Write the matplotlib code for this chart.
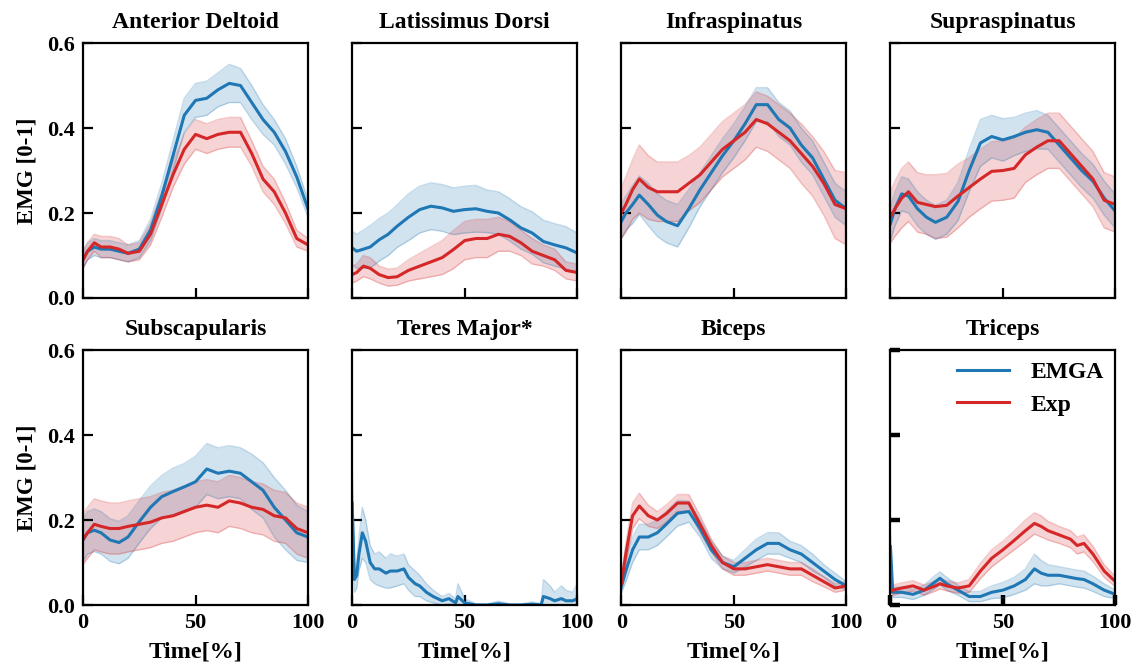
import numpy as np
import matplotlib
matplotlib.use('Agg')
import matplotlib.pyplot as plt

plt.rcParams['font.family'] = ['Liberation Serif', 'DejaVu Serif']
plt.rcParams['font.weight'] = 'bold'
plt.rcParams['font.size'] = 16

#%% dados (tempo em %, EMG normalizado)
muscles = ['Anterior Deltoid', 'Latissimus Dorsi', 'Infraspinatus', 'Supraspinatus',
           'Subscapularis', 'Teres Major*', 'Biceps', 'Triceps']

T = [0, 2, 5, 8, 12, 16, 20, 25, 30, 35, 40, 45, 50, 55, 60, 65, 70, 75, 80, 85, 90, 95, 100]

# Anterior Deltoid
ad_emga = [0.09, 0.11, 0.12, 0.115, 0.115, 0.11, 0.105, 0.115, 0.16, 0.24, 0.335, 0.43, 0.465, 0.47, 0.49, 0.505, 0.50, 0.46, 0.42, 0.39, 0.345, 0.285, 0.21]
ad_emga_sd = [0.02, 0.02, 0.02, 0.02, 0.02, 0.02, 0.02, 0.02, 0.025, 0.03, 0.035, 0.04, 0.04, 0.04, 0.04, 0.045, 0.04, 0.04, 0.035, 0.03, 0.03, 0.025, 0.02]
ad_exp = [0.09, 0.11, 0.13, 0.12, 0.12, 0.115, 0.105, 0.11, 0.15, 0.22, 0.29, 0.35, 0.385, 0.375, 0.385, 0.39, 0.39, 0.34, 0.28, 0.25, 0.20, 0.14, 0.125]
ad_exp_sd = [0.02, 0.02, 0.02, 0.025, 0.025, 0.025, 0.02, 0.02, 0.025, 0.03, 0.03, 0.035, 0.035, 0.035, 0.035, 0.035, 0.035, 0.03, 0.03, 0.03, 0.025, 0.02, 0.015]

# Latissimus Dorsi
ld_emga = [0.118, 0.11, 0.115, 0.12, 0.137, 0.15, 0.169, 0.19, 0.208, 0.216, 0.212, 0.204, 0.208, 0.21, 0.204, 0.20, 0.184, 0.165, 0.153, 0.133, 0.125, 0.118, 0.106]
ld_emga_sd = [0.04, 0.04, 0.045, 0.05, 0.05, 0.05, 0.05, 0.055, 0.055, 0.055, 0.055, 0.055, 0.055, 0.055, 0.05, 0.05, 0.05, 0.05, 0.05, 0.05, 0.05, 0.05, 0.047]
ld_exp = [0.055, 0.06, 0.075, 0.07, 0.055, 0.048, 0.05, 0.065, 0.075, 0.085, 0.095, 0.114, 0.135, 0.14, 0.14, 0.15, 0.145, 0.13, 0.11, 0.10, 0.09, 0.065, 0.06]
ld_exp_sd = [0.02, 0.02, 0.025, 0.025, 0.02, 0.02, 0.02, 0.025, 0.03, 0.035, 0.04, 0.045, 0.045, 0.045, 0.045, 0.04, 0.035, 0.03, 0.03, 0.025, 0.025, 0.02, 0.02]

# Infraspinatus
if_emga = [0.18, 0.20, 0.22, 0.242, 0.22, 0.195, 0.18, 0.17, 0.21, 0.255, 0.295, 0.335, 0.37, 0.41, 0.455, 0.455, 0.42, 0.40, 0.36, 0.33, 0.28, 0.23, 0.21]
if_emga_sd = [0.04, 0.04, 0.045, 0.045, 0.05, 0.05, 0.05, 0.05, 0.045, 0.04, 0.04, 0.04, 0.04, 0.04, 0.04, 0.04, 0.04, 0.04, 0.04, 0.04, 0.04, 0.04, 0.04]
if_exp = [0.20, 0.22, 0.255, 0.28, 0.26, 0.25, 0.25, 0.25, 0.27, 0.29, 0.32, 0.35, 0.37, 0.39, 0.42, 0.41, 0.39, 0.37, 0.34, 0.31, 0.27, 0.22, 0.21]
if_exp_sd = [0.06, 0.065, 0.07, 0.08, 0.075, 0.07, 0.07, 0.07, 0.065, 0.065, 0.065, 0.065, 0.065, 0.065, 0.065, 0.065, 0.065, 0.065, 0.07, 0.07, 0.075, 0.08, 0.085]

# Supraspinatus
sp_emga = [0.175, 0.21, 0.245, 0.24, 0.21, 0.19, 0.178, 0.19, 0.227, 0.30, 0.365, 0.38, 0.372, 0.38, 0.39, 0.396, 0.39, 0.36, 0.33, 0.30, 0.275, 0.235, 0.204]
sp_emga_sd = [0.04, 0.04, 0.04, 0.04, 0.04, 0.04, 0.04, 0.04, 0.045, 0.05, 0.055, 0.05, 0.05, 0.045, 0.045, 0.045, 0.04, 0.04, 0.04, 0.04, 0.04, 0.04, 0.04]
sp_exp = [0.19, 0.21, 0.235, 0.25, 0.225, 0.22, 0.215, 0.218, 0.24, 0.26, 0.28, 0.298, 0.30, 0.305, 0.337, 0.355, 0.37, 0.37, 0.34, 0.31, 0.28, 0.23, 0.22]
sp_exp_sd = [0.06, 0.065, 0.07, 0.07, 0.07, 0.07, 0.075, 0.075, 0.075, 0.07, 0.07, 0.07, 0.07, 0.07, 0.065, 0.065, 0.065, 0.065, 0.065, 0.065, 0.065, 0.065, 0.065]

# Subscapularis
sb_emga = [0.153, 0.17, 0.176, 0.17, 0.153, 0.147, 0.16, 0.196, 0.23, 0.255, 0.267, 0.278, 0.29, 0.32, 0.31, 0.315, 0.31, 0.29, 0.27, 0.23, 0.20, 0.17, 0.16]
sb_emga_sd = [0.05, 0.05, 0.05, 0.05, 0.05, 0.05, 0.05, 0.05, 0.05, 0.05, 0.055, 0.055, 0.06, 0.06, 0.06, 0.06, 0.06, 0.065, 0.065, 0.07, 0.07, 0.065, 0.06]
sb_exp = [0.155, 0.17, 0.19, 0.185, 0.18, 0.18, 0.185, 0.19, 0.195, 0.205, 0.21, 0.22, 0.23, 0.235, 0.23, 0.245, 0.24, 0.23, 0.225, 0.21, 0.205, 0.18, 0.17]
sb_exp_sd = [0.06, 0.06, 0.06, 0.06, 0.06, 0.06, 0.06, 0.06, 0.06, 0.06, 0.06, 0.06, 0.06, 0.06, 0.06, 0.06, 0.06, 0.06, 0.06, 0.06, 0.06, 0.06, 0.06]

# Teres Major (so EMGA)
T_tm = [0, 1, 2, 3, 4.5, 6, 8, 10, 12, 15, 17, 20, 23, 25, 28, 30, 33, 36, 40, 43, 46, 47, 50, 55, 60, 65, 70, 75, 80, 84, 85, 88, 90, 93, 95, 98, 100]
tm_emga = [0.24, 0.06, 0.07, 0.12, 0.17, 0.15, 0.10, 0.085, 0.085, 0.075, 0.08, 0.08, 0.085, 0.065, 0.05, 0.045, 0.03, 0.02, 0.01, 0.015, 0.005, 0.02, 0.005, 0.0, 0.0, 0.003, 0.0, 0.0, 0.002, 0.0, 0.02, 0.015, 0.01, 0.015, 0.01, 0.01, 0.015]
tm_emga_sd = [0.09, 0.03, 0.03, 0.04, 0.06, 0.05, 0.04, 0.035, 0.04, 0.035, 0.04, 0.035, 0.035, 0.03, 0.03, 0.025, 0.02, 0.015, 0.01, 0.012, 0.01, 0.03, 0.01, 0.003, 0.003, 0.006, 0.003, 0.003, 0.005, 0.004, 0.04, 0.03, 0.02, 0.03, 0.025, 0.02, 0.035]

# Biceps
bi_emga = [0.043, 0.08, 0.13, 0.16, 0.16, 0.17, 0.19, 0.216, 0.22, 0.18, 0.13, 0.10, 0.09, 0.11, 0.13, 0.145, 0.145, 0.13, 0.12, 0.10, 0.08, 0.06, 0.045]
bi_emga_sd = [0.015, 0.025, 0.03, 0.03, 0.03, 0.03, 0.03, 0.03, 0.025, 0.02, 0.02, 0.015, 0.015, 0.02, 0.025, 0.025, 0.025, 0.02, 0.02, 0.02, 0.015, 0.015, 0.01]
bi_exp = [0.05, 0.12, 0.21, 0.233, 0.21, 0.20, 0.215, 0.24, 0.24, 0.19, 0.14, 0.10, 0.085, 0.085, 0.09, 0.095, 0.09, 0.085, 0.085, 0.07, 0.055, 0.04, 0.045]
bi_exp_sd = [0.015, 0.025, 0.03, 0.03, 0.025, 0.02, 0.02, 0.02, 0.02, 0.02, 0.015, 0.015, 0.015, 0.015, 0.015, 0.015, 0.015, 0.015, 0.015, 0.015, 0.012, 0.01, 0.01]

# Triceps
T_tr = [0, 1, 5, 10, 15, 20, 22, 25, 30, 35, 40, 45, 50, 55, 60, 64, 67, 70, 75, 80, 83, 86, 90, 95, 100]
tr_emga = [0.137, 0.03, 0.03, 0.025, 0.035, 0.055, 0.063, 0.05, 0.035, 0.02, 0.02, 0.03, 0.035, 0.045, 0.06, 0.085, 0.075, 0.07, 0.07, 0.065, 0.062, 0.06, 0.05, 0.035, 0.025]
tr_emga_sd = [0.03, 0.012, 0.012, 0.012, 0.012, 0.015, 0.015, 0.015, 0.012, 0.012, 0.012, 0.015, 0.018, 0.02, 0.025, 0.035, 0.03, 0.025, 0.02, 0.02, 0.02, 0.02, 0.018, 0.015, 0.01]
tr_exp = [0.03, 0.035, 0.04, 0.045, 0.035, 0.045, 0.05, 0.045, 0.04, 0.045, 0.08, 0.11, 0.13, 0.152, 0.175, 0.192, 0.185, 0.175, 0.165, 0.155, 0.14, 0.145, 0.12, 0.08, 0.055]
tr_exp_sd = [0.012, 0.012, 0.012, 0.012, 0.012, 0.012, 0.012, 0.012, 0.012, 0.015, 0.018, 0.02, 0.02, 0.022, 0.025, 0.025, 0.025, 0.022, 0.02, 0.02, 0.02, 0.02, 0.018, 0.015, 0.012]

dados = [
    (T, ad_emga, ad_emga_sd, ad_exp, ad_exp_sd),
    (T, ld_emga, ld_emga_sd, ld_exp, ld_exp_sd),
    (T, if_emga, if_emga_sd, if_exp, if_exp_sd),
    (T, sp_emga, sp_emga_sd, sp_exp, sp_exp_sd),
    (T, sb_emga, sb_emga_sd, sb_exp, sb_exp_sd),
    (T_tm, tm_emga, tm_emga_sd, None, None),
    (T, bi_emga, bi_emga_sd, bi_exp, bi_exp_sd),
    (T_tr, tr_emga, tr_emga_sd, tr_exp, tr_exp_sd),
]

cor_emga = '#1f77b4'
cor_exp = '#d62728'

#%% figura
fig = plt.figure(figsize=(11.39, 6.68), dpi=100)

def banda(ax, x, m, s, cor):
    x = np.array(x); m = np.array(m); s = np.array(s)
    lo = np.clip(m - s, 0, None)
    hi = m + s
    ax.fill_between(x, lo, hi, color=cor, alpha=0.2, linewidth=0)
    ax.plot(x, lo, color=cor, alpha=0.25, linewidth=1)
    ax.plot(x, hi, color=cor, alpha=0.25, linewidth=1)

for i, nome in enumerate(muscles):
    lin = i // 4
    col = i % 4
    left = 0.0729 + col*0.2363
    bottom = 0.5539 if lin == 0 else 0.0943
    ax = fig.add_axes([left, bottom, 0.1975, 0.3817])
    x, m1, s1, m2, s2 = dados[i]
    banda(ax, x, m1, s1, cor_emga)
    if m2 is not None:
        banda(ax, x, m2, s2, cor_exp)
    ax.plot(x, m1, color=cor_emga, linewidth=2.2, label='EMGA')
    if m2 is not None:
        ax.plot(x, m2, color=cor_exp, linewidth=2.2, label='Exp')
    ax.set_xlim(0, 100)
    ax.set_ylim(0, 0.6)
    ax.set_xticks([0, 50, 100])
    ax.set_yticks([0, 0.2, 0.4, 0.6])
    ax.set_title(nome, fontsize=17, fontweight='bold', pad=11)
    for sp in ax.spines.values():
        sp.set_linewidth(1.6)
    w = 3.2 if nome == 'Triceps' else 1.6
    ax.tick_params(direction='in', length=7, width=w, labelsize=16)
    ax.tick_params(axis='y', pad=6)
    ax.tick_params(axis='x', pad=6)
    if col == 0:
        ax.set_ylabel('EMG [0-1]', fontsize=16.5, fontweight='bold', labelpad=7)
        ax.set_yticklabels(['0.0', '0.2', '0.4', '0.6'])
    else:
        ax.set_yticklabels([])
    if lin == 1:
        ax.set_xlabel('Time[%]', fontsize=17.5, fontweight='bold', labelpad=6)
    else:
        ax.set_xticklabels([])
    if nome == 'Triceps':
        ax.legend(loc='upper right', frameon=False, fontsize=17, handlelength=2.2,
                  handletextpad=0.9, labelspacing=0.45, borderaxespad=0.1)

fig.savefig('out.png', dpi=100)
